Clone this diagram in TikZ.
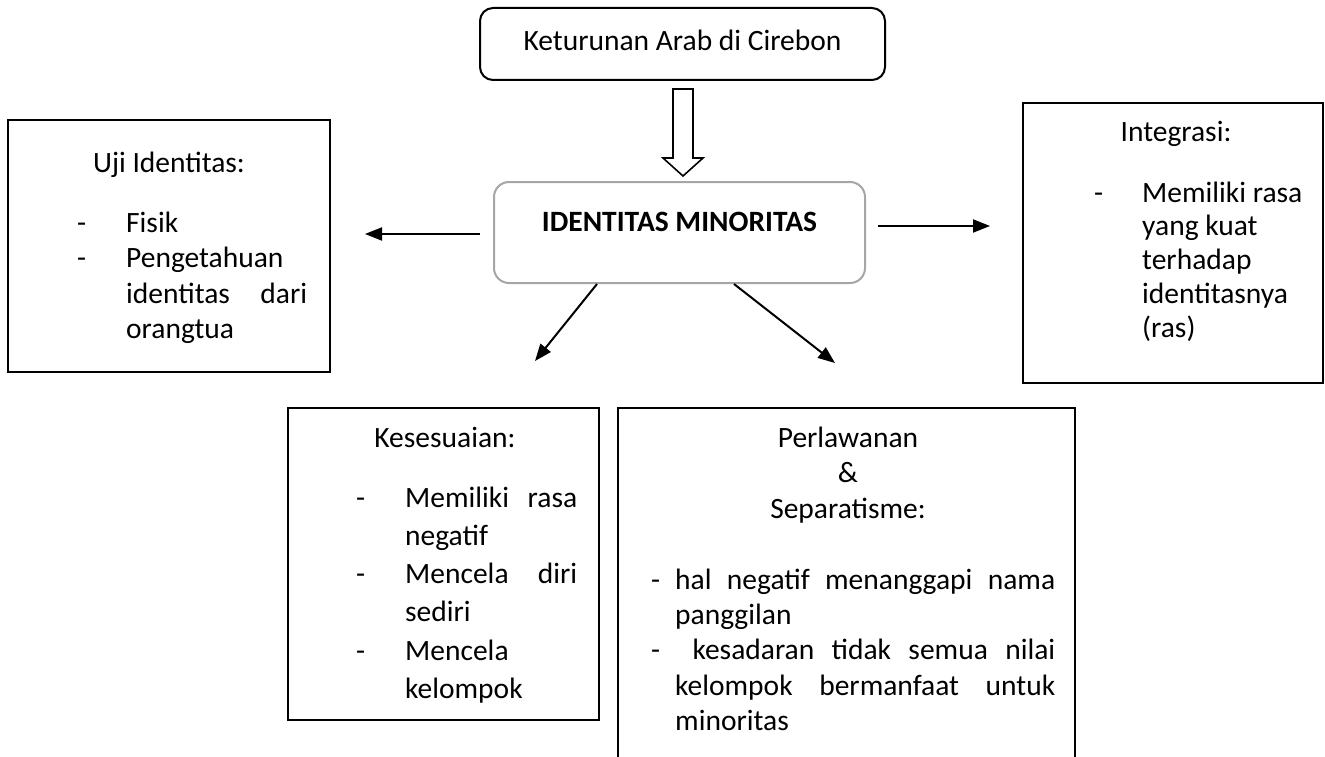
\documentclass[tikz,border=0pt]{standalone}
\usepackage{fontspec}
\setmainfont{Carlito}
\usetikzlibrary{arrows.meta}

\newlength\dashgap
\newcommand\ditem{\noindent\hangindent=\dashgap\hangafter=1\makebox[\dashgap][l]{-}\ignorespaces}

\tikzset{
	box/.style = {draw=black, line width=2pt, inner sep=0pt},
	roundbox/.style = {box, rounded corners=13pt},
	mainbox/.style = {draw=black!35, line width=2pt, rounded corners=15pt, inner sep=0pt},
	heading/.style = {anchor=base, inner sep=0pt, text width=#1, align=flush center},
	items/.style 2 args = {anchor=base west, inner sep=0pt, text width=#1, align=justify,
		execute at begin node={\setlength\dashgap{#2}\pretolerance=10000\tolerance=10000\hbadness=10000}},
	arr/.style = {line width=2pt, -{Triangle[length=17pt,width=13pt]}},
	hollow/.style = {draw=black, line width=1.6pt, fill=white}
}

\begin{document}
\begin{tikzpicture}[x=1pt, y=-1pt, font=\fontsize{29.5}{35}\selectfont]
	\useasboundingbox (0,0) rectangle (1325,757);
	\clip (0,0) rectangle (1325,757);

	\node[roundbox, minimum width=405pt, minimum height=72pt, text depth=8pt] (arab) at (682.5,44) {Keturunan Arab di Cirebon};
	\node[mainbox, minimum width=371pt, minimum height=101pt, text depth=22pt] (mid) at (679.5,232.5) {\textbf{IDENTITAS MINORITAS}};

	\node[box, minimum width=322pt, minimum height=252pt] (uji) at (169,246) {};
	\node[box, minimum width=300pt, minimum height=280pt] (integ) at (1173,243) {};
	\node[box, minimum width=311pt, minimum height=312pt] (kes) at (443.5,564) {};
	\node[box, minimum width=457pt, minimum height=382pt] (perl) at (846.5,599) {};

	\node[heading=300pt] (ujiT) at (169,172) {Uji Identitas:};
	\node[heading=280pt] (integT) at (1176,142) {Integrasi:};
	\node[heading=290pt] (kesT) at (445,447) {Kesesuaian:};
	\node[heading=420pt, font=\fontsize{29.5}{35.8}\selectfont] (perlT) at (848,447) {Perlawanan\\ \&\\ Separatisme:};

	\node[items={230pt}{49pt}, font=\fontsize{29.5}{35.6}\selectfont] (ujiL) at (77,232) {%
		\ditem Fisik\par
		\ditem Pengetahuan\linebreak identitas dari\linebreak orangtua\par};
	\node[items={212pt}{48pt}, font=\fontsize{29.5}{33.8}\selectfont] (integL) at (1094,202) {%
		\ditem Memiliki rasa\newline yang kuat\newline terhadap\newline identitasnya\newline (ras)\par};
	\node[items={221pt}{49pt}, font=\fontsize{29.5}{38.3}\selectfont] (kesL) at (356,507) {%
		\ditem Memiliki rasa\linebreak negatif\par
		\ditem Mencela diri\linebreak sediri\par
		\ditem Mencela\linebreak kelompok\par};
	\node[items={404pt}{24pt}, font=\fontsize{29.5}{35.4}\selectfont] (perlL) at (651,589) {%
		\ditem hal negatif menanggapi nama\linebreak panggilan\par
		\ditem\ kesadaran tidak semua nilai\linebreak kelompok bermanfaat untuk\linebreak minoritas\par};

	\draw[hollow] (673,89) -- (693,89) -- (693,158) -- (703,158) -- (683,176) -- (663,158) -- (673,158) -- cycle;

	\coordinate (midL) at (480,234);
	\coordinate (ujiIn) at (365,234);
	\coordinate (midR) at (878,226);
	\coordinate (integIn) at (990,226);
	\coordinate (kesIn) at (535,361);
	\coordinate (perlIn) at (835,363);

	\draw[arr] (midL) -- (ujiIn);
	\draw[arr] (midR) -- (integIn);
	\draw[arr] ([xshift=104pt]mid.south west) -- (kesIn);
	\draw[arr] ([xshift=-132pt]mid.south east) -- (perlIn);
\end{tikzpicture}
\end{document}
